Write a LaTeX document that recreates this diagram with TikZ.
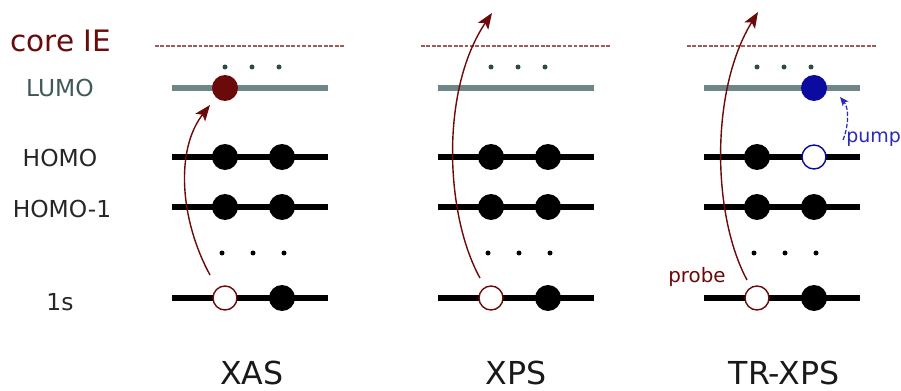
\documentclass[tikz,border=0pt]{standalone}
\usepackage{fontspec}
\setmainfont{DejaVu Sans}
\usetikzlibrary{arrows.meta}
\definecolor{core}{HTML}{6B0A0A}
\definecolor{dashc}{HTML}{A05A5A}
\definecolor{lumoline}{HTML}{6F8686}
\definecolor{lumotext}{HTML}{3F5858}
\definecolor{dotteal}{HTML}{2F4A4A}
\definecolor{pumpblue}{HTML}{2A2AB8}
\definecolor{eblue}{HTML}{0B0BA0}
\begin{document}
\begin{tikzpicture}[x=0.02cm,y=-0.02cm,
  levelline/.style={line width=3.3pt,black},
  lumoln/.style={line width=3.6pt,lumoline},
  ielabel/.style={font=\fontsize{16.8pt}{18pt}\selectfont,text=core,anchor=base,inner sep=0pt},
  lvlabel/.style={font=\fontsize{13.3pt}{15pt}\selectfont,text=black!85,anchor=base,inner sep=0pt},
  methlabel/.style={font=\fontsize{18pt}{20pt}\selectfont,text=black!90,anchor=base,inner sep=0pt,text depth=0pt},
  smalllabel/.style={font=\fontsize{10.8pt}{13pt}\selectfont,inner sep=0pt},
  elec/.style={circle,fill=black,inner sep=0pt,minimum size=0.52cm},
  hole/.style={circle,draw=core,fill=white,line width=0.8pt,inner sep=0pt,minimum size=0.48cm},
  holeblue/.style={circle,draw=eblue,fill=white,line width=0.8pt,inner sep=0pt,minimum size=0.48cm},
  dotup/.style={circle,fill=dotteal,inner sep=0pt,minimum size=0.1cm},
  dotlow/.style={circle,fill=black,inner sep=0pt,minimum size=0.1cm},
  iedash/.style={draw=dashc,line width=0.6pt,dash pattern=on 2.2pt off 0.9pt},
  probearrow/.style={draw=core,line width=0.8pt,-{Stealth[length=9pt,width=7pt,inset=2pt]}},
  pumparrow/.style={draw=pumpblue,line width=0.7pt,dash pattern=on 2.5pt off 1pt,-{Stealth[length=5pt,width=4.2pt,inset=1.2pt]}}
]
\useasboundingbox (0,0) rectangle (901,391);

% left labels
\node[ielabel] (tcore) at (61,52) {core IE};
\node[lvlabel,text=lumotext] (tlumo) at (60,97) {LUMO};
\node[lvlabel] (thomo) at (60,167) {HOMO};
\node[lvlabel] (thomo1) at (62,217) {HOMO-1};
\node[lvlabel] (t1s) at (60,310) {1s};

% panels
\foreach \p/\xo in {1/225,2/491,3/757}{
  \draw[iedash] (\xo-70,46) -- (\xo+120,46);
  \draw[lumoln] (\xo-53,88) -- (\xo+103,88);
  \draw[levelline] (\xo-53,157) -- (\xo+103,157);
  \draw[levelline] (\xo-53,207) -- (\xo+103,207);
  \draw[levelline] (\xo-53,298) -- (\xo+103,298);
  \node[dotup] (du\p a) at (\xo,67) {};
  \node[dotup] (du\p b) at (\xo+27,67) {};
  \node[dotup] (du\p c) at (\xo+54,67) {};
  \node[dotlow] (dl\p a) at (\xo-3,253) {};
  \node[dotlow] (dl\p b) at (\xo+28,253) {};
  \node[dotlow] (dl\p c) at (\xo+59,253) {};
  \node[elec] (hm\p a) at (\xo,207) {};
  \node[elec] (hm\p b) at (\xo+57,207) {};
  \node[hole] (cs\p a) at (\xo,298) {};
  \node[elec] (cs\p b) at (\xo+57,298) {};
}
% HOMO occupancy
\node[elec] (ho1a) at (225,157) {};
\node[elec] (ho1b) at (282,157) {};
\node[elec] (ho2a) at (491,157) {};
\node[elec] (ho2b) at (548,157) {};
\node[elec] (ho3a) at (757,157) {};
\node[holeblue] (ho3b) at (814,157) {};
% LUMO occupancy
\node[elec,fill=core] (lu1) at (225,88) {};
\node[elec,fill=eblue] (lu3) at (814,88) {};

% probe arrows
\coordinate (a1s) at (210,275);
\coordinate (a1e) at (210,105);
\draw[probearrow] (a1s) .. controls (180,220) and (175,150) .. (a1e);
\coordinate (a2s) at (480,278);
\coordinate (a2e) at (492,13);
\draw[probearrow] (a2s) .. controls (445,215) and (440,90) .. (a2e);
\coordinate (a3s) at (747,280);
\coordinate (a3e) at (758,12);
\draw[probearrow] (a3s) .. controls (712,215) and (710,90) .. (a3e);

% pump arrow
\coordinate (ps) at (843,140);
\coordinate (pe) at (840,97);
\draw[pumparrow] (ps) .. controls (849,125) and (849,108) .. (pe);
\node[smalllabel,text=pumpblue,anchor=base west] (tpump) at (846,143) {pump};
\node[smalllabel,font=\fontsize{11.3pt}{13pt}\selectfont,text=core,anchor=base] (tprobe) at (697,282) {probe};

% method labels
\node[methlabel] (txas) at (252,384) {XAS};
\node[methlabel] (txps) at (516,384) {XPS};
\node[methlabel] (ttr) at (784,384) {TR-XPS};
\end{tikzpicture}
\end{document}
